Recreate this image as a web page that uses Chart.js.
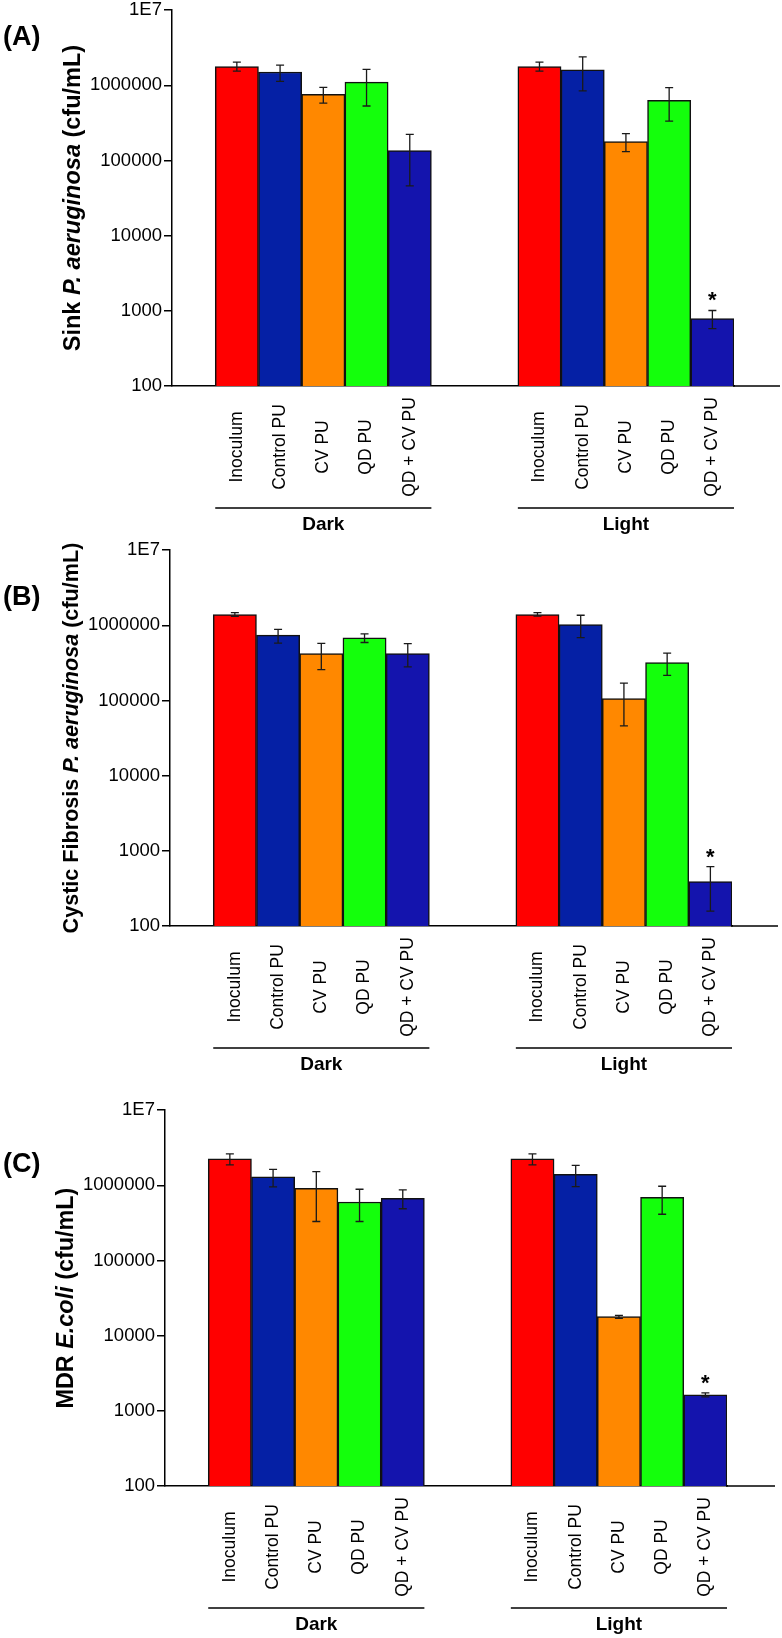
<!DOCTYPE html>
<html>
<head>
<meta charset="utf-8">
<script src="https://cdn.jsdelivr.net/npm/chart.js@4.4.1/dist/chart.umd.min.js"></script>
<style>
  html, body { margin: 0; padding: 0; background: #fff; }
  body { width: 782px; height: 1638px; position: relative; overflow: hidden; }
  canvas { position: absolute; left: 0; }
</style>
</head>
<body>
<canvas id="panelA" width="782" height="560"></canvas>
<canvas id="panelB" width="782" height="560"></canvas>
<canvas id="panelC" width="782" height="560"></canvas>

<script>
const CATEGORIES = ['Inoculum', 'Control PU', 'CV PU', 'QD PU', 'QD + CV PU'];
const GROUPS     = ['Dark', 'Light'];
const BAR_COLORS = ['#ff0000', '#0520a5', '#ff8800', '#14ff0c', '#1414ad'];
const Y_TICKS    = [100, 1000, 10000, 100000, 1000000, 10000000];

// (A) Sink P. aeruginosa
const A_DARK      = [1770000, 1500000, 760000, 1100000, 135000];
const A_DARK_ERR  = [[1540000, 2030000], [1130000, 1850000], [580000, 940000], [530000, 1630000], [46000, 222000]];
const A_LIGHT     = [1770000, 1610000, 178000, 630000, 790];
const A_LIGHT_ERR = [[1540000, 2030000], [840000, 2380000], [131000, 228000], [334000, 930000], [580, 1010]];

// (B) Cystic Fibrosis P. aeruginosa
const B_DARK      = [1390000, 740000, 420000, 680000, 420000];
const B_DARK_ERR  = [[1310000, 1470000], [580000, 880000], [257000, 575000], [590000, 770000], [280000, 570000]];
const B_LIGHT     = [1390000, 1020000, 106000, 320000, 390];
const B_LIGHT_ERR = [[1320000, 1470000], [685000, 1360000], [46000, 170000], [215000, 427000], [158, 617]];

// (C) MDR E.coli
const C_DARK      = [2240000, 1300000, 910000, 600000, 670000];
const C_DARK_ERR  = [[1870000, 2610000], [950000, 1630000], [330000, 1520000], [330000, 885000], [487000, 870000]];
const C_LIGHT     = [2240000, 1400000, 17900, 690000, 1630];
const C_LIGHT_ERR = [[1870000, 2610000], [960000, 1840000], [17000, 18600], [412000, 970000], [1535, 1730]];

// asterisk on QD + CV PU under light
const SIGNIF = [[false, false, false, false, false], [false, false, false, false, true]];

const FONT = '"Liberation Sans", Arial, Helvetica, sans-serif';

// slots: 1 empty, 5 dark, 2 empty, 5 light
function slots(dark, light) {
  return [null, ...dark, null, null, ...light];
}

const panelPlugin = {
  id: 'panelDeco',
  afterDatasetsDraw(chart, args, opts) {
    const ctx  = chart.ctx;
    const area = chart.chartArea;
    const y    = chart.scales.y;
    const bars = chart.getDatasetMeta(0).data;
    const errs = slots(opts.darkErr, opts.lightErr);
    const sig  = slots(SIGNIF[0], SIGNIF[1]);

    ctx.save();
    // x axis runs on past the last bar
    ctx.strokeStyle = '#000';
    ctx.lineWidth = 1.5;
    ctx.beginPath();
    ctx.moveTo(area.right - 1, area.bottom);
    ctx.lineTo(area.left + opts.axisLen, area.bottom);
    ctx.stroke();

    // error bars
    ctx.strokeStyle = '#1a1a1a';
    ctx.lineWidth = 1.3;
    bars.forEach((bar, i) => {
      const e = errs[i];
      if (!e) return;
      const yLo = y.getPixelForValue(e[0]);
      const yHi = y.getPixelForValue(e[1]);
      ctx.beginPath();
      ctx.moveTo(bar.x, yLo); ctx.lineTo(bar.x, yHi);
      ctx.moveTo(bar.x - 4, yLo); ctx.lineTo(bar.x + 4, yLo);
      ctx.moveTo(bar.x - 4, yHi); ctx.lineTo(bar.x + 4, yHi);
      ctx.stroke();
      if (sig[i]) {
        ctx.fillStyle = '#000';
        ctx.font = 'bold 22px ' + FONT;
        ctx.textAlign = 'center';
        ctx.textBaseline = 'alphabetic';
        ctx.fillText('*', bar.x, yHi - 3);
      }
    });

    // category labels, rotated
    ctx.fillStyle = '#000';
    ctx.font = '17.5px ' + FONT;
    ctx.textAlign = 'center';
    ctx.textBaseline = 'middle';
    bars.forEach((bar, i) => {
      const lbl = chart.data.labels[i];
      if (!lbl) return;
      ctx.save();
      ctx.translate(bar.x, area.bottom + 61);
      ctx.rotate(-Math.PI / 2);
      ctx.fillText(lbl, 0, 0);
      ctx.restore();
    });

    // group lines and names
    [[1, 5], [8, 12]].forEach(([a, b], g) => {
      const left  = bars[a].x - bars[a].width / 2;
      const right = bars[b].x + bars[b].width / 2;
      ctx.strokeStyle = '#000';
      ctx.lineWidth = 1.5;
      ctx.beginPath();
      ctx.moveTo(left, area.bottom + 122);
      ctx.lineTo(right, area.bottom + 122);
      ctx.stroke();
      ctx.font = 'bold 19px ' + FONT;
      ctx.fillText(GROUPS[g], (left + right) / 2, area.bottom + 139);
    });

    // y title with italic species name
    const fonts  = opts.title.map(p => (p[1] ? 'italic ' : '') + 'bold ' + opts.titleSize + 'px ' + FONT);
    const widths = opts.title.map((p, i) => { ctx.font = fonts[i]; return ctx.measureText(p[0]).width; });
    const total  = widths.reduce((s, w) => s + w, 0);
    ctx.save();
    ctx.translate(area.left - 98, (area.top + area.bottom) / 2);
    ctx.rotate(-Math.PI / 2);
    ctx.textAlign = 'left';
    let tx = -total / 2;
    opts.title.forEach((p, i) => {
      ctx.font = fonts[i];
      ctx.fillText(p[0], tx, 0);
      tx += widths[i];
    });
    ctx.restore();

    // panel letter
    ctx.font = 'bold 27px ' + FONT;
    ctx.textAlign = 'left';
    ctx.fillText(opts.letter, 3, area.top + opts.letterDy);
    ctx.restore();
  }
};

function makePanel(p) {
  const canvas = document.getElementById(p.id);
  canvas.style.top = p.top + 'px';
  const labels = slots(CATEGORIES, CATEGORIES).map(l => l || '');
  const colors = slots(BAR_COLORS, BAR_COLORS).map(c => c || 'transparent');

  return new Chart(canvas.getContext('2d'), {
    type: 'bar',
    data: {
      labels,
      datasets: [{
        data: slots(p.dark, p.light),
        backgroundColor: colors,
        borderColor: '#111',
        borderWidth: 1.5,
        borderSkipped: 'start',
        barPercentage: 1,
        categoryPercentage: 1,
      }]
    },
    options: {
      responsive: false,
      animation: false,
      layout: { padding: { top: 12, bottom: 0, left: p.axisX - 92, right: 782 - p.axisX - 562 } },
      plugins: {
        legend: { display: false },
        tooltip: { enabled: false },
        panelDeco: p,
      },
      scales: {
        x: {
          type: 'category',
          grid: { display: false },
          border: { display: true, color: '#000', width: 1.5 },
          ticks: { display: false },
          afterFit: s => { s.height = 171; },
        },
        y: {
          type: 'logarithmic',
          min: 100,
          max: 10000000,
          grid: { display: true, drawOnChartArea: false, drawTicks: true, tickLength: 8, color: '#000', lineWidth: 1.5 },
          border: { display: true, color: '#000', width: 1.5 },
          afterBuildTicks: s => { s.ticks = Y_TICKS.map(v => ({ value: v })); },
          afterFit: s => { s.width = 92; },
          ticks: {
            autoSkip: false,
            padding: 2,
            color: '#000',
            font: { family: FONT, size: 18.5 },
            callback: v => v === 10000000 ? '1E7' : String(v),
          }
        }
      }
    },
    plugins: [panelPlugin]
  });
}

makePanel({
  id: 'panelA', top: -3, axisX: 172, axisLen: 608, letter: '(A)', letterDy: 27,
  title: [['Sink ', false], ['P. aeruginosa', true], [' (cfu/mL)', false]], titleSize: 23.5,
  dark: A_DARK, darkErr: A_DARK_ERR, light: A_LIGHT, lightErr: A_LIGHT_ERR,
});

makePanel({
  id: 'panelB', top: 537, axisX: 170, axisLen: 608, letter: '(B)', letterDy: 47.5,
  title: [['Cystic Fibrosis ', false], ['P. aeruginosa', true], [' (cfu/mL)', false]], titleSize: 21.6,
  dark: B_DARK, darkErr: B_DARK_ERR, light: B_LIGHT, lightErr: B_LIGHT_ERR,
});

makePanel({
  id: 'panelC', top: 1097, axisX: 165, axisLen: 610, letter: '(C)', letterDy: 54,
  title: [['MDR ', false], ['E.coli', true], [' (cfu/mL)', false]], titleSize: 23.4,
  dark: C_DARK, darkErr: C_DARK_ERR, light: C_LIGHT, lightErr: C_LIGHT_ERR,
});
</script>
</body>
</html>
